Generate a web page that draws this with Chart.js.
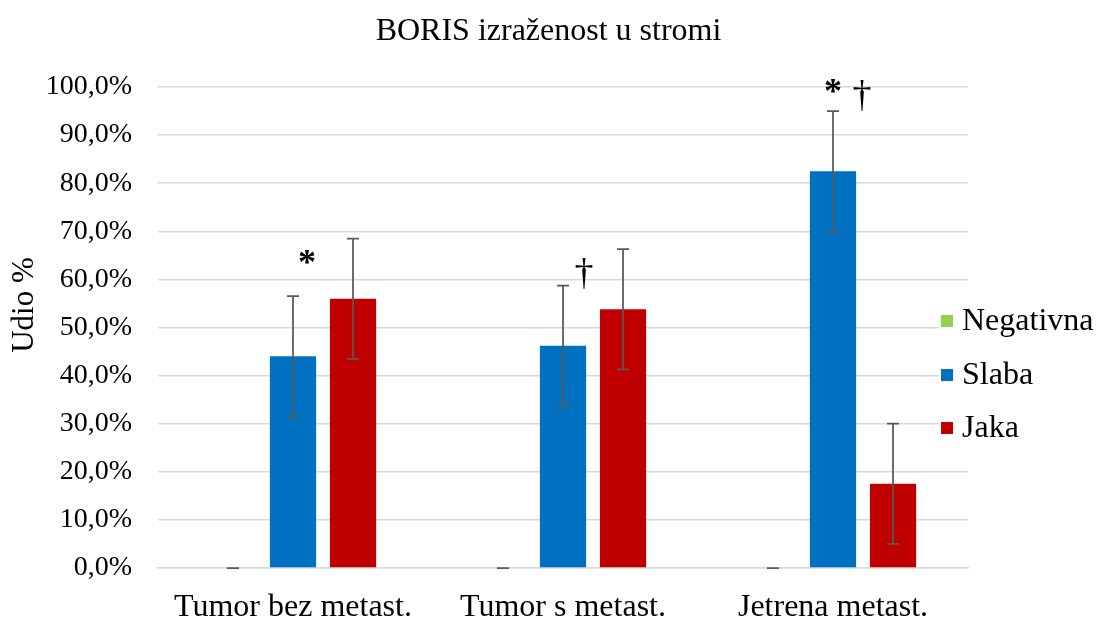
<!DOCTYPE html>
<html>
<head>
<meta charset="utf-8">
<script src="https://cdn.jsdelivr.net/npm/chart.js@4.4.0/dist/chart.umd.min.js"></script>
<style>
    html, body { margin: 0; padding: 0; background: #fff; }
    #wrap { width: 1097px; height: 619px; }
</style>
</head>
<body>
<div id="wrap"><canvas id="chart"></canvas></div>
<script>
// ========== DATA ==========
const categories = ['Tumor bez metast.', 'Tumor s metast.', 'Jetrena metast.'];
const negativna = [0, 0, 0];
const slaba = [44.0, 46.2, 82.5];
const jaka = [56.0, 53.8, 17.5];
const negativnaErr = [0, 0, 0];
const slabaErr = [12.5, 12.5, 12.5];
const jakaErr = [12.5, 12.5, 12.5];
const yTicks = [0, 10, 20, 30, 40, 50, 60, 70, 80, 90, 100];

// significance marks: category index, value (height), symbol
const markCategory = [0, 1, 2, 2];
const markValue = [65, 61, 100.5, 98];
const markText = ['*', '†', '*', '†'];
const markOffset = [14, 21, 0, 29]; // px to the right of category centre

const TITLE = 'BORIS izraženost u stromi';
const Y_TITLE = 'Udio %';
const FONT = "'Liberation Serif', 'Times New Roman', serif";

// ========== PLUGINS ==========
const errorBars = {
    id: 'errorBars',
    afterDatasetsDraw(chart) {
        const ctx = chart.ctx;
        const y = chart.scales.y;
        ctx.save();
        ctx.strokeStyle = '#595959';
        ctx.lineWidth = 1.75;
        chart.data.datasets.forEach((ds, di) => {
            const meta = chart.getDatasetMeta(di);
            meta.data.forEach((bar, i) => {
                const v = ds.data[i], e = ds.err[i];
                const top = y.getPixelForValue(v + e);
                const bot = y.getPixelForValue(v - e);
                ctx.beginPath();
                ctx.moveTo(bar.x, top); ctx.lineTo(bar.x, bot);
                ctx.moveTo(bar.x - 6, top); ctx.lineTo(bar.x + 6, top);
                ctx.moveTo(bar.x - 6, bot); ctx.lineTo(bar.x + 6, bot);
                ctx.stroke();
            });
        });
        ctx.restore();
    }
};

const marks = {
    id: 'marks',
    afterDraw(chart) {
        const ctx = chart.ctx;
        const x = chart.scales.x, y = chart.scales.y;
        ctx.save();
        ctx.fillStyle = '#000';
        ctx.textAlign = 'center';
        ctx.textBaseline = 'middle';
        markText.forEach((t, k) => {
            const px = x.getPixelForValue(markCategory[k]) + markOffset[k];
            const py = y.getPixelForValue(markValue[k]);
            ctx.font = (t === '*' ? 'bold 36px ' : '38px ') + FONT;
            ctx.fillText(t, px, py + (t === '*' ? 9 : 0));
        });
        ctx.restore();
    }
};

// title centred on the whole canvas, axis title and legend sit over the plot edge
const texts = {
    id: 'texts',
    afterDraw(chart) {
        const ctx = chart.ctx;
        ctx.save();
        ctx.fillStyle = '#000';
        ctx.textAlign = 'center';
        ctx.textBaseline = 'middle';
        ctx.font = '32px ' + FONT;
        ctx.fillText(TITLE, chart.width / 2, 32);

        ctx.translate(25, 305);
        ctx.rotate(-Math.PI / 2);
        ctx.font = '31px ' + FONT;
        ctx.fillText(Y_TITLE, 0, 0);
        ctx.restore();

        ctx.save();
        ctx.fillStyle = '#fff';
        ctx.fillRect(939, 300, 158, 148);
        ctx.font = '32px ' + FONT;
        ctx.textBaseline = 'middle';
        const ys = [321, 375, 428];
        chart.data.datasets.forEach((ds, i) => {
            ctx.fillStyle = ds.backgroundColor;
            ctx.fillRect(941, ys[i] - 6, 12, 12);
            ctx.fillStyle = '#000';
            ctx.fillText(ds.label, 962, ys[i] + 1);
        });
        ctx.restore();
    }
};

// ========== CHART ==========
new Chart(document.getElementById('chart'), {
    type: 'bar',
    data: {
        labels: categories,
        datasets: [
            { label: 'Negativna', data: negativna, err: negativnaErr, backgroundColor: '#92d050' },
            { label: 'Slaba', data: slaba, err: slabaErr, backgroundColor: '#0070c0' },
            { label: 'Jaka', data: jaka, err: jakaErr, backgroundColor: '#c00000' }
        ]
    },
    options: {
        responsive: true,
        maintainAspectRatio: false,
        animation: false,
        datasets: { bar: { categoryPercentage: 0.667, barPercentage: 0.77 } },
        layout: { padding: { top: 87, right: 129, bottom: 0, left: 0 } },
        plugins: {
            legend: { display: false },
            tooltip: { enabled: false },
            title: { display: false }
        },
        scales: {
            x: {
                afterFit: s => { s.height = 51; },
                grid: { display: false },
                border: { color: '#d9d9d9', width: 1.5 },
                ticks: { color: '#000', font: { family: FONT, size: 32 }, padding: 12 }
            },
            y: {
                min: 0, max: 100,
                afterFit: s => { s.width = 158; },
                afterBuildTicks: axis => { axis.ticks = yTicks.map(v => ({ value: v })); },
                grid: { color: '#d9d9d9', lineWidth: 1.5, drawTicks: false },
                border: { display: false },
                ticks: {
                    color: '#000',
                    padding: 26,
                    font: { family: FONT, size: 28 },
                    callback: v => v.toFixed(1).replace('.', ',') + '%'
                }
            }
        }
    },
    plugins: [errorBars, marks, texts]
});
</script>
</body>
</html>
